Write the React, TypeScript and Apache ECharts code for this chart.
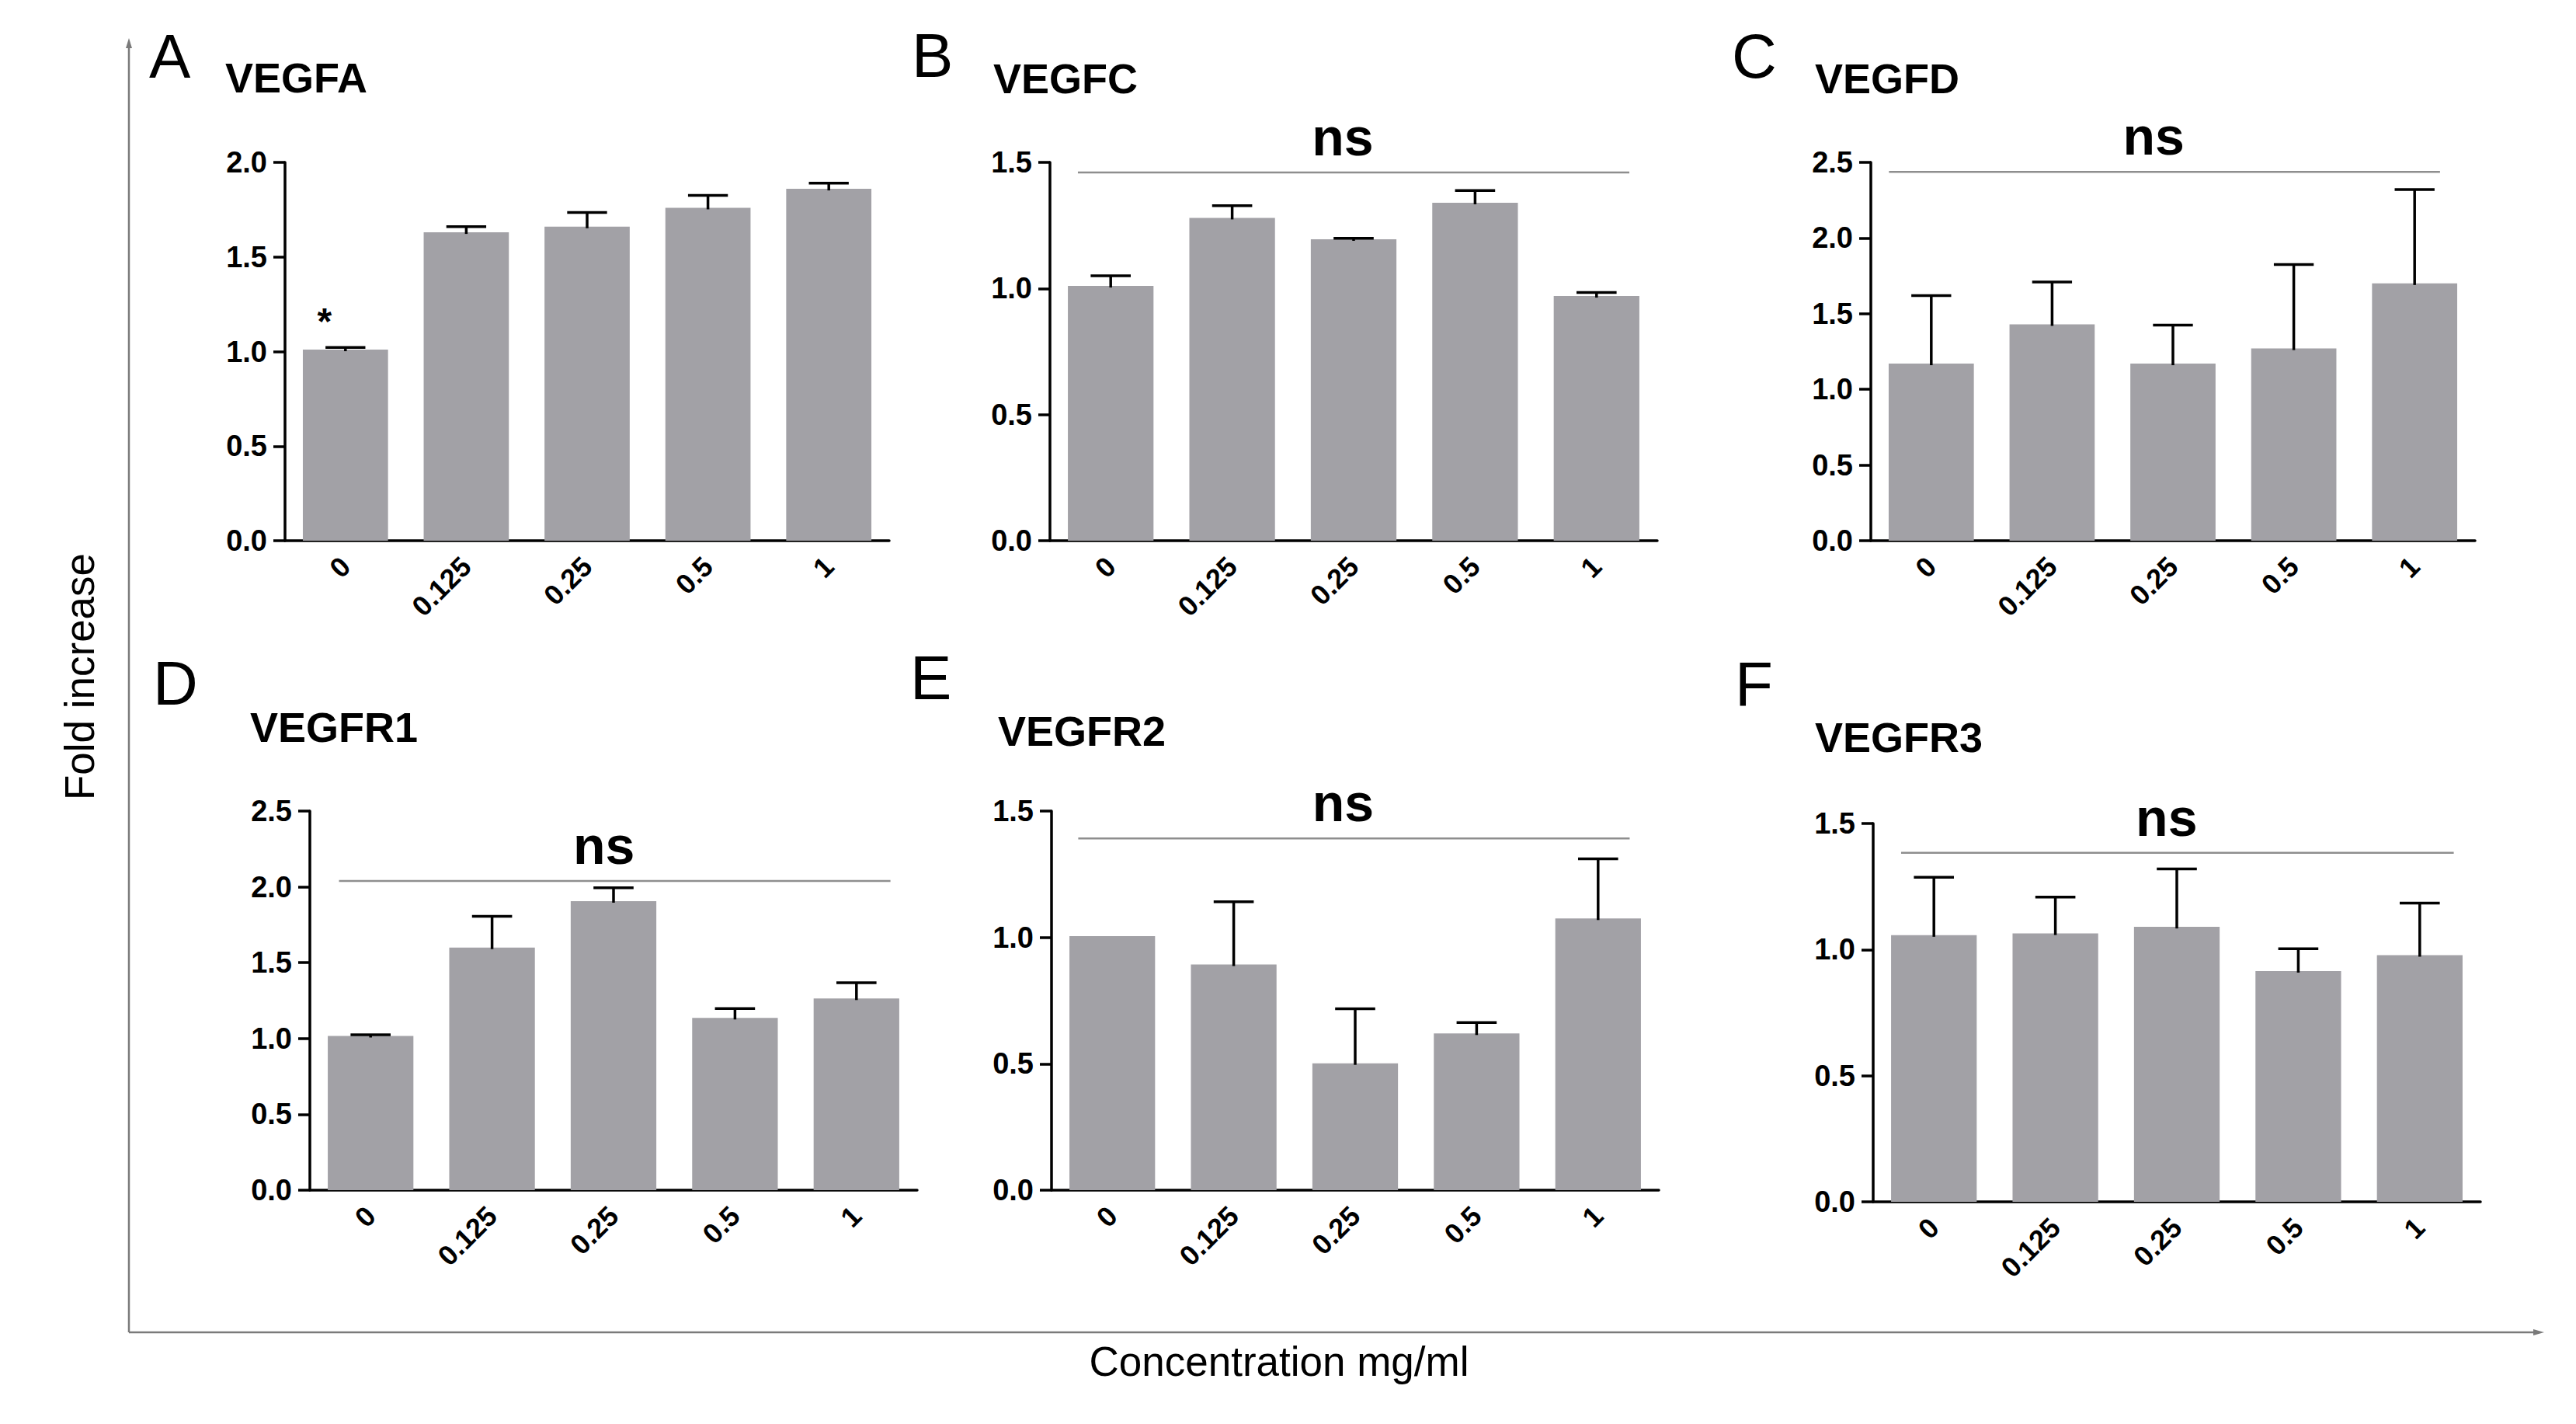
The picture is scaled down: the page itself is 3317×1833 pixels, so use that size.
import React, { useEffect, useRef } from "react";
import * as echarts from "echarts";

// ---------- data ----------
const categories = ["0", "0.125", "0.25", "0.5", "1"];
const panelLetters = ["A", "B", "C", "D", "E", "F"];
const geneNames = ["VEGFA", "VEGFC", "VEGFD", "VEGFR1", "VEGFR2", "VEGFR3"];

const vegfaMean = [1.01, 1.63, 1.66, 1.76, 1.86];
const vegfaSD = [0.012, 0.03, 0.075, 0.065, 0.03];
const vegfcMean = [1.01, 1.28, 1.195, 1.34, 0.97];
const vegfcSD = [0.04, 0.048, 0.004, 0.048, 0.014];
const vegfdMean = [1.17, 1.43, 1.17, 1.27, 1.7];
const vegfdSD = [0.45, 0.28, 0.255, 0.555, 0.62];
const vegfr1Mean = [1.017, 1.6, 1.906, 1.136, 1.264];
const vegfr1SD = [0.008, 0.206, 0.088, 0.062, 0.104];
const vegfr2Mean = [1.005, 0.893, 0.502, 0.62, 1.075];
const vegfr2SD = [0, 0.248, 0.216, 0.043, 0.236];
const vegfr3Mean = [1.057, 1.064, 1.09, 0.915, 0.978];
const vegfr3SD = [0.23, 0.144, 0.23, 0.088, 0.206];

const yMax = [2, 1.5, 2.5, 2.5, 1.5, 1.5];
const yTicks = [0.5, 0.5, 0.5, 0.5, 0.5, 0.5];
// significance bar: y value and extent in category units
const nsLevel = [null, 1.46, 2.437, 2.039, 1.392, 1.384];
const nsFrom = [0, -0.27, -0.35, -0.26, -0.28, -0.27];
const nsTo = [0, 4.27, 4.21, 4.28, 4.26, 4.28];
const asterisks = [["*", "", "", "", ""], [], [], [], [], []];

const means = [vegfaMean, vegfcMean, vegfdMean, vegfr1Mean, vegfr2Mean, vegfr3Mean];
const sds = [vegfaSD, vegfcSD, vegfdSD, vegfr1SD, vegfr2SD, vegfr3SD];

// ---------- layout ----------
const grids = [
  { left: 367, top: 209, width: 778, height: 487 },
  { left: 1352, top: 209, width: 782, height: 487 },
  { left: 2409, top: 209, width: 778, height: 487 },
  { left: 399, top: 1044, width: 782, height: 488 },
  { left: 1354, top: 1044, width: 782, height: 488 },
  { left: 2412, top: 1060, width: 782, height: 487 },
];
const letterPos = [
  [192, 72], [1174, 71], [2230, 72], [197, 879], [1172, 872], [2234, 880],
];
const titlePos = [
  [290, 100], [1279, 101], [2337, 101], [322, 936], [1285, 941], [2337, 949],
];

const FONT = "'Liberation Sans', Arial, Helvetica, sans-serif";
const BAR = "#a2a1a6";

export default function App() {
  const ref = useRef<HTMLDivElement>(null);
  useEffect(() => {
    if (!ref.current) return;
    const chart = echarts.init(ref.current, undefined, { renderer: "svg" });

    const xAxis: any[] = [];
    const yAxis: any[] = [];
    const series: any[] = [];
    const graphic: any[] = [];

    for (let i = 0; i < 6; i++) {
      xAxis.push({
        type: "category",
        gridIndex: i,
        data: categories,
        boundaryGap: true,
        axisLine: { lineStyle: { color: "#000", width: 3.5 } },
        axisTick: { alignWithLabel: true, length: 14, lineStyle: { color: "#000", width: 3.5 } },
        axisLabel: {
          rotate: 45,
          margin: 27,
          color: "#000",
          fontFamily: FONT,
          fontWeight: "bold",
          fontSize: 36,
          interval: 0,
        },
        splitLine: { show: false },
      });
      yAxis.push({
        type: "value",
        gridIndex: i,
        min: 0,
        max: yMax[i],
        interval: yTicks[i],
        axisLine: { show: true, lineStyle: { color: "#000", width: 3.5 } },
        axisTick: { show: true, length: 15, lineStyle: { color: "#000", width: 3.5 } },
        axisLabel: {
          margin: 23,
          color: "#000",
          fontFamily: FONT,
          fontWeight: "bold",
          fontSize: 38,
          formatter: (v: number) => v.toFixed(1),
        },
        splitLine: { show: false },
      });

      const m = means[i];
      const s = sds[i];
      const ast = asterisks[i];
      series.push({
        type: "bar",
        xAxisIndex: i,
        yAxisIndex: i,
        barWidth: "70.5%",
        itemStyle: { color: BAR },
        data: m.map((v, j) =>
          ast[j]
            ? {
                value: v,
                label: {
                  show: true,
                  position: "top",
                  formatter: ast[j],
                  offset: [-27, -8],
                  fontSize: 48,
                  fontWeight: "bold",
                  fontFamily: FONT,
                  color: "#000",
                },
              }
            : v
        ),
        z: 2,
      });
      series.push({
        type: "custom",
        xAxisIndex: i,
        yAxisIndex: i,
        z: 3,
        data: m.map((v, j) => [j, v, v + s[j]]),
        encode: { x: 0, y: [1, 2] },
        renderItem: (params: any, api: any) => {
          const idx = api.value(0);
          const lo = api.value(1);
          const hi = api.value(2);
          if (hi - lo <= 0) return { type: "group", children: [] };
          const p0 = api.coord([idx, lo]);
          const p1 = api.coord([idx, hi]);
          const hw = api.size([1, 0])[0] * 0.165;
          return {
            type: "group",
            children: [
              {
                type: "line",
                shape: { x1: p0[0], y1: p0[1] + 2, x2: p1[0], y2: p1[1] },
                style: { stroke: "#000", lineWidth: 3.5 },
              },
              {
                type: "line",
                shape: { x1: p1[0] - hw, y1: p1[1], x2: p1[0] + hw, y2: p1[1] },
                style: { stroke: "#000", lineWidth: 3.5 },
              },
            ],
          };
        },
      });
      if (nsLevel[i] != null) {
        series.push({
          type: "custom",
          xAxisIndex: i,
          yAxisIndex: i,
          z: 4,
          data: [[nsLevel[i], nsFrom[i], nsTo[i]]],
          encode: { y: 0 },
          renderItem: (params: any, api: any) => {
            const cs = params.coordSys;
            const yv = api.value(0);
            const f = api.value(1);
            const t = api.value(2);
            const catW = cs.width / categories.length;
            const x1 = cs.x + (f + 0.5) * catW;
            const x2 = cs.x + (t + 0.5) * catW;
            const y = api.coord([0, yv])[1];
            return {
              type: "group",
              children: [
                {
                  type: "line",
                  shape: { x1, y1: y, x2, y2: y },
                  style: { stroke: "#8e8e8e", lineWidth: 2.5 },
                },
                {
                  type: "text",
                  style: {
                    text: "ns",
                    x: (x1 + x2) / 2 - 14,
                    y: y - 46,
                    align: "center",
                    verticalAlign: "middle",
                    fontSize: 68,
                    fontWeight: "bold",
                    fontFamily: FONT,
                    fill: "#000",
                  },
                },
              ],
            };
          },
        });
      }

      graphic.push({
        type: "text",
        left: letterPos[i][0],
        top: letterPos[i][1] - 40,
        style: {
          text: panelLetters[i],
          fontSize: 80,
          fontFamily: FONT,
          fill: "#000",
        },
      });
      graphic.push({
        type: "text",
        x: titlePos[i][0],
        y: titlePos[i][1],
        style: {
          text: geneNames[i],
          fontSize: 54,
          fontWeight: "bold",
          fontFamily: FONT,
          fill: "#000",
          verticalAlign: "middle",
          align: "left",
        },
      });
    }

    // outer axes of the figure
    const frame = "#7a7a7a";
    graphic.push(
      { type: "line", shape: { x1: 166, y1: 58, x2: 166, y2: 1715 }, style: { stroke: frame, lineWidth: 2.5 } },
      { type: "polygon", shape: { points: [[162, 62], [166, 49], [170, 62]] }, style: { fill: frame } },
      { type: "line", shape: { x1: 166, y1: 1715, x2: 3266, y2: 1715 }, style: { stroke: frame, lineWidth: 2.5 } },
      { type: "polygon", shape: { points: [[3262, 1711], [3276, 1715], [3262, 1719]] }, style: { fill: frame } },
      {
        type: "text",
        x: 102,
        y: 871,
        rotation: Math.PI / 2,
        style: {
          text: "Fold increase",
          fontSize: 53,
          fontFamily: FONT,
          fill: "#000",
          align: "center",
          verticalAlign: "middle",
        },
      },
      {
        type: "text",
        x: 1647,
        y: 1752,
        style: {
          text: "Concentration mg/ml",
          fontSize: 53,
          fontFamily: FONT,
          fill: "#000",
          align: "center",
          verticalAlign: "middle",
        },
      }
    );

    chart.setOption({
      animation: false,
      backgroundColor: "#fff",
      grid: grids.map((g) => ({ ...g, containLabel: false })),
      xAxis,
      yAxis,
      series,
      graphic,
    });
    return () => chart.dispose();
  }, []);

  return (
    <div
      ref={ref}
      style={{ position: "fixed", left: 0, top: 0, width: 3317, height: 1833 }}
    />
  );
}
